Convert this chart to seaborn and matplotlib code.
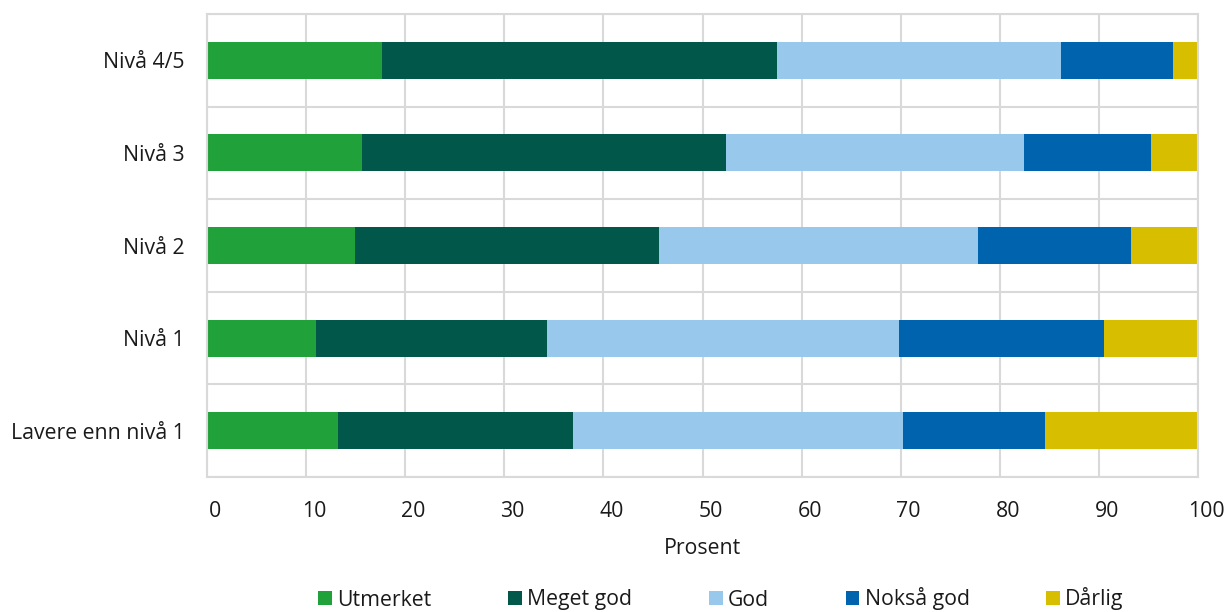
"""Stacked horizontal bars: vurdering etter nivå."""

import matplotlib
matplotlib.use("Agg")
import matplotlib.pyplot as plt
import matplotlib.transforms as mtransforms
from matplotlib.patches import Patch
import numpy as np
import pandas as pd
import seaborn as sns


CATEGORIES = ["Nivå 4/5", "Nivå 3", "Nivå 2", "Nivå 1", "Lavere enn nivå 1"]
SERIES = ["Utmerket", "Meget god", "God", "Nokså god", "Dårlig"]
UTMERKET = [17.7, 15.6, 14.9, 11.0, 13.2]
MEGET_GOD = [39.8, 36.8, 30.7, 23.3, 23.7]
GOD = [28.7, 30.0, 32.2, 35.5, 33.3]
NOKSA_GOD = [11.3, 12.9, 15.4, 20.7, 14.4]
DARLIG = [2.5, 4.7, 6.8, 9.5, 15.4]
COLORS = ["#21a139", "#00574a", "#98c8eb", "#0063ae", "#d7bf00"]
GRID = "#d9d9d9"
FS = 15.3


def main() -> None:
    sns.set_theme(style="white")
    plt.rcParams["font.family"] = ["Open Sans", "DejaVu Sans"]

    values = np.array([UTMERKET, MEGET_GOD, GOD, NOKSA_GOD, DARLIG])
    cum = values.cumsum(axis=0)

    fig = plt.figure(figsize=(12.29, 6.12), dpi=100)
    ax = fig.add_axes([207 / 1229, 1 - 477 / 612, (1198 - 207) / 1229, (477 - 14) / 612])

    # overlapping cumulative bars, widest first
    for i in range(len(SERIES) - 1, -1, -1):
        df = pd.DataFrame({"kategori": CATEGORIES, "verdi": cum[i]})
        sns.barplot(data=df, x="verdi", y="kategori", order=CATEGORIES, orient="y",
                    color=COLORS[i], saturation=1, width=0.4, ax=ax, linewidth=0)

    ax.set_xlim(0, 100)
    ax.set_ylim(4.5, -0.5)
    ax.set_xticks(range(0, 101, 10))
    ax.set_yticks(np.arange(-0.5, 5, 1), minor=True)
    ax.grid(axis="x", which="major", color=GRID, linewidth=1.5)
    ax.grid(axis="y", which="minor", color=GRID, linewidth=1.5)
    ax.set_axisbelow(True)
    for s in ax.spines.values():
        s.set_color(GRID)
        s.set_linewidth(1.5)
    ax.tick_params(axis="both", which="both", length=0, labelsize=FS, labelcolor="#1a1a1a")
    ax.tick_params(axis="x", pad=17)
    ax.tick_params(axis="y", pad=16)
    offset = mtransforms.ScaledTranslation(8 / 100, 0, fig.dpi_scale_trans)
    for lbl in ax.get_xticklabels():
        lbl.set_transform(lbl.get_transform() + offset)
    ax.set_xlabel("Prosent", fontsize=FS, color="#1a1a1a", labelpad=12)
    ax.set_ylabel("")

    handles = [Patch(facecolor=c, edgecolor="none") for c in COLORS]
    fig.legend(handles, SERIES, loc="center", bbox_to_anchor=(721 / 1229, 1 - 599 / 612),
               ncol=5, frameon=False, fontsize=FS, handlelength=0.65, handleheight=0.65,
               handletextpad=0.25, columnspacing=3.6, labelcolor="#1a1a1a")

    fig.savefig("out.png", dpi=100)
    plt.close(fig)


if __name__ == "__main__":
    main()
